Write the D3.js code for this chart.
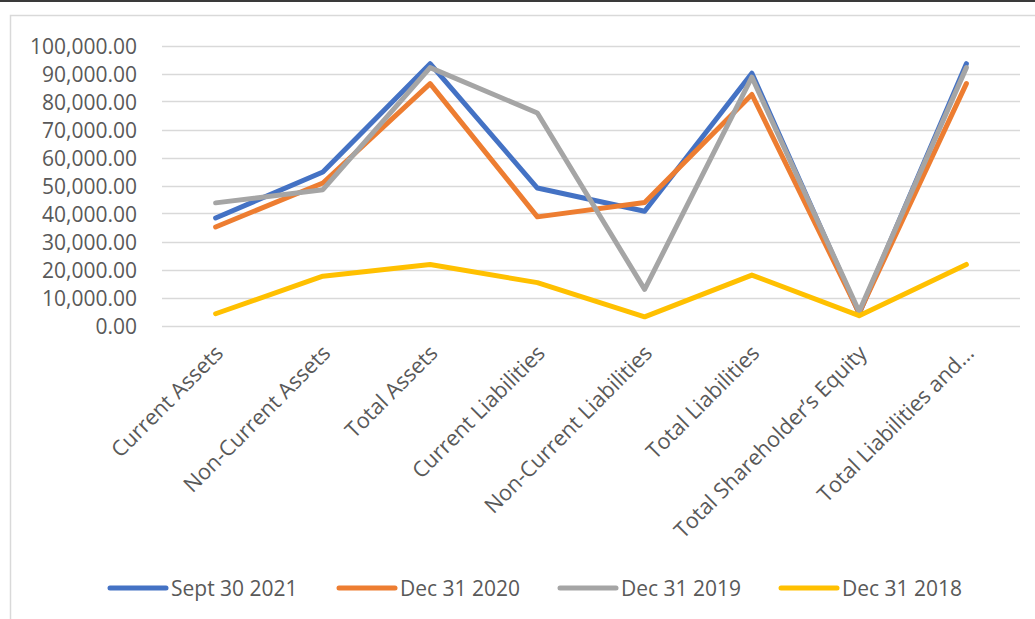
<!DOCTYPE html>
<html>
<head>
<meta charset="utf-8">
<script src="https://cdn.jsdelivr.net/npm/d3@7"></script>
<style>
  html, body { margin: 0; padding: 0; background: #fff; }
  svg { display: block; }
  text { font-family: "Open Sans", "Liberation Sans", sans-serif; fill: #595959; }
</style>
</head>
<body>
<svg id="chart" width="1035" height="619"></svg>
<script>
// Balance sheet line items (x axis)
const categories = [
  "Current Assets",
  "Non-Current Assets",
  "Total Assets",
  "Current Liabilities",
  "Non-Current Liabilities",
  "Total Liabilities",
  "Total Shareholder\u2019s Equity",
  "Total Liabilities and..."
];

// Reporting periods
const seriesNames = ["Sept 30 2021", "Dec 31 2020", "Dec 31 2019", "Dec 31 2018"];

// Values per period
const sept2021 = [38400, 54800, 93500, 49100, 40800, 90100, 4200, 93500];
const dec2020  = [35200, 50900, 86400, 38800, 43900, 82500, 4500, 86400];
const dec2019  = [43800, 48500, 92100, 75900, 12900, 88700, 5000, 92100];
const dec2018  = [4200, 17600, 21800, 15300, 3100, 18000, 3500, 21800];

// Y axis ticks
const yTicks = [0, 10000, 20000, 30000, 40000, 50000, 60000, 70000, 80000, 90000, 100000];

const seriesColors = ["#4472C4", "#ED7D31", "#A5A5A5", "#FFC000"];
const seriesValues = [sept2021, dec2020, dec2019, dec2018];

const svg = d3.select("#chart");
const W = 1035, H = 619;

// Outer decoration: dark top rule and light chart frame
svg.append("rect").attr("x", 0).attr("y", 0).attr("width", W).attr("height", 2).attr("fill", "#3a3a3a");
svg.append("rect")
  .attr("x", 10.5).attr("y", 15.5)
  .attr("width", W + 10).attr("height", H)
  .attr("fill", "none").attr("stroke", "#d9d9d9").attr("stroke-width", 1.5);

const plot = { left: 162, right: 1020, top: 45.5, bottom: 325.5 };

const x = d3.scaleBand().domain(categories).range([plot.left, plot.right]);
const y = d3.scaleLinear().domain([0, 100000]).range([plot.bottom, plot.top]);

// Horizontal gridlines
svg.append("g")
  .selectAll("line")
  .data(yTicks)
  .join("line")
  .attr("x1", plot.left).attr("x2", plot.right)
  .attr("y1", d => Math.round(y(d)) + 0.5).attr("y2", d => Math.round(y(d)) + 0.5)
  .attr("stroke", "#d9d9d9").attr("stroke-width", 1.5);

// Y axis labels
const fmt = d3.format(",.2f");
const yAxis = d3.axisLeft(y).tickValues(yTicks).tickFormat(fmt).tickSize(0).tickPadding(0);
const gy = svg.append("g").attr("transform", `translate(137,0)`).call(yAxis);
gy.select(".domain").remove();
gy.selectAll("text")
  .attr("font-size", 21)
  .attr("font-family", "'Open Sans', sans-serif")
  .attr("fill", "#595959")
  .attr("dy", "0.36em");

// X axis category labels, rotated
const xAxis = d3.axisBottom(x).tickSize(0).tickPadding(0);
const gx = svg.append("g").attr("transform", `translate(0,${plot.bottom})`).call(xAxis);
gx.select(".domain").remove();
gx.selectAll("text")
  .attr("font-size", 21.6)
  .attr("font-family", "'Open Sans', sans-serif")
  .attr("fill", "#595959")
  .attr("text-anchor", "end")
  .attr("dy", 0)
  .attr("y", 0)
  .attr("transform", "translate(9,29) rotate(-45)");

// Series lines
const line = d3.line()
  .x((d, i) => x(categories[i]) + x.bandwidth() / 2)
  .y(d => y(d));

svg.append("g")
  .selectAll("path")
  .data(seriesValues)
  .join("path")
  .attr("d", d => line(d))
  .attr("fill", "none")
  .attr("stroke", (d, i) => seriesColors[i])
  .attr("stroke-width", 5)
  .attr("stroke-linejoin", "round")
  .attr("stroke-linecap", "round");

// Legend
const legendX = [110, 339, 560, 781];
const legendY = 588;
const lg = svg.append("g");
seriesNames.forEach((name, i) => {
  lg.append("line")
    .attr("x1", legendX[i]).attr("x2", legendX[i] + 56)
    .attr("y1", legendY).attr("y2", legendY)
    .attr("stroke", seriesColors[i]).attr("stroke-width", 5)
    .attr("stroke-linecap", "round");
  lg.append("text")
    .attr("x", legendX[i] + 61).attr("y", legendY)
    .attr("dy", "0.36em")
    .attr("font-size", 21)
    .text(name);
});
</script>
</body>
</html>
